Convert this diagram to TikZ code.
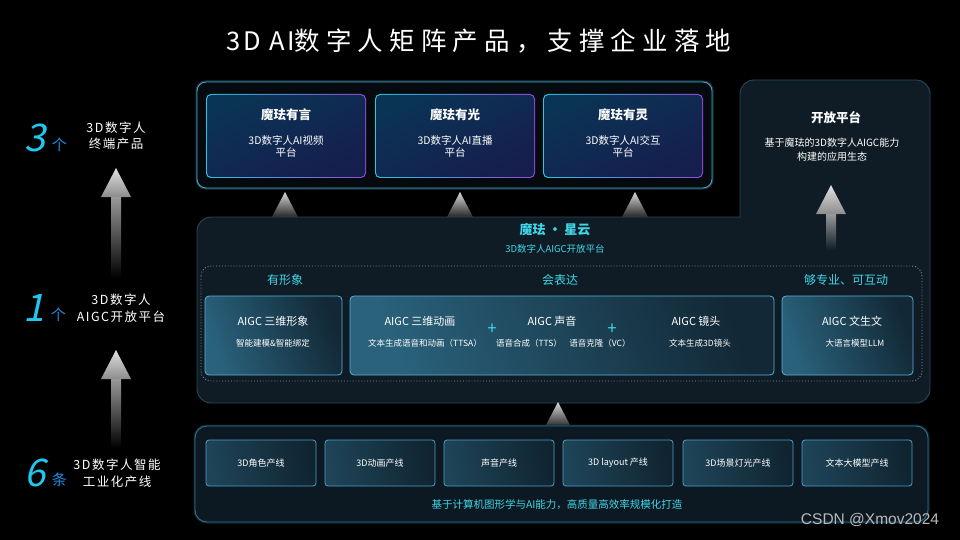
\documentclass[tikz,border=0pt]{standalone}
\usepackage{fontspec}
\setmainfont{Noto Sans CJK SC}
\newfontfamily\numfont[FakeSlant=0.22]{Noto Sans CJK SC}
\newfontfamily\widefont[LetterSpace=12]{Noto Sans CJK SC}
\newfontfamily\titlefont[LetterSpace=24]{Noto Sans CJK SC}
\newfontfamily\titlelatin[LetterSpace=10]{Noto Sans CJK SC}
\newfontfamily\wmfont{Liberation Sans}
\usetikzlibrary{positioning,calc}
\definecolor{cyanT}{RGB}{64,214,232}
\definecolor{numC}{RGB}{30,200,240}
\definecolor{unitC}{RGB}{30,140,230}
\definecolor{topfill}{RGB}{5,10,14}
\definecolor{midfill}{RGB}{15,28,38}
\definecolor{midedge}{RGB}{42,72,90}
\definecolor{topedge}{RGB}{70,160,196}
\definecolor{botedge}{RGB}{46,112,142}
\definecolor{edgeA}{RGB}{40,200,225}
\definecolor{edgeB}{RGB}{150,70,220}
\definecolor{cardA}{RGB}{10,52,84}
\definecolor{cardB}{RGB}{22,30,78}
\definecolor{modA}{RGB}{42,98,124}
\definecolor{modB}{RGB}{18,40,54}
\definecolor{modedge}{RGB}{88,178,218}
\definecolor{lineA}{RGB}{30,68,88}
\definecolor{lineB}{RGB}{16,36,48}
\definecolor{lineedge}{RGB}{76,160,200}
\newcommand\fsz[2]{\fontsize{#1}{#2}\selectfont}

\begin{document}
\begin{tikzpicture}[x=1pt,y=-1pt,
  every node/.style={text=white,inner sep=0pt,align=center},
  bignum/.style={font=\numfont\fsz{38}{38},text=numC},
  unitlbl/.style={font=\fsz{15}{15},text=unitC},
  side/.style={font=\widefont\fsz{12.5}{16.5}},
  cardedge/.style={rectangle,rounded corners=5,left color=edgeA,right color=edgeB,minimum width=160pt,minimum height=84pt},
  card/.style={rectangle,rounded corners=4.5,top color=cardA,bottom color=cardB,shading angle=25,minimum width=158pt,minimum height=82pt},
  cardhead/.style={font=\bfseries\fsz{12.5}{14}},
  cardsub/.style={font=\fsz{10.5}{12}},
  module/.style={rectangle,draw=modedge,line width=.8pt,rounded corners=4,left color=modA,right color=modB,shading angle=110,minimum height=79pt},
  modhead/.style={font=\fsz{11}{13}},
  modsub/.style={font=\fsz{8.5}{10}},
  group/.style={font=\fsz{12}{14},text=cyanT},
  prodline/.style={rectangle,draw=lineedge,line width=.8pt,rounded corners=3,left color=lineA,right color=lineB,shading angle=100,minimum width=110pt,minimum height=46pt,font=\fsz{9}{11}},
  spike/.style={top color=white!85!black,bottom color=black!85}]

\fill[black] (0,0) rectangle (960,540);

% title
\node[font=\fsz{25.5}{28}] (title) at (479,41) {{\titlelatin 3D AI}{\titlefont 数字人矩阵产品，支撑企业落地}};

% left column
\node[bignum] (n3) at (35,138) {3};
\node[unitlbl,right=6pt of n3.south east,anchor=south west] (u3) {个};
\node[side] (s3) at (116,136) {3D数字人\\终端产品};
\node[bignum] (n1) at (34,308) {1};
\node[unitlbl,right=6pt of n1.south east,anchor=south west] (u1) {个};
\node[side] (s1) at (121,308) {3D数字人\\AIGC开放平台};
\node[bignum] (n6) at (35,473) {6};
\node[unitlbl,right=6pt of n6.south east,anchor=south west] (u6) {条};
\node[side] (s6) at (117,473) {3D数字人智能\\工业化产线};

\foreach \x/\yt/\yb in {116/168/278,116/350/448,831/185/250}{
  \fill[top color=white!88!black,bottom color=white!55!black] (\x-15,\yt+29) -- (\x,\yt) -- (\x+15,\yt+29) -- cycle;
  \fill[top color=white!60!black,bottom color=black] (\x-5,\yt+29) rectangle (\x+5,\yb);
}

% top layer: products
\draw[topedge!35!black,line width=3pt,rounded corners=9] (197,82) rectangle (712,188);
\draw[topedge,line width=.9pt,rounded corners=9,fill=topfill] (197,82) rectangle (712,188);
\node[cardedge] (yanE) at (286,136) {};
\node[card] (yan) at (286,136) {};
\node[cardedge] (guangE) at (455,136) {};
\node[card] (guang) at (455,136) {};
\node[cardedge] (lingE) at (623,136) {};
\node[card] (ling) at (623,136) {};
\node[cardhead] at ($(yan.north)+(0,20)$) {魔珐有言};
\node[cardsub] at ($(yan.north)+(0,52)$) {3D数字人AI视频\\平台};
\node[cardhead] at ($(guang.north)+(0,20)$) {魔珐有光};
\node[cardsub] at ($(guang.north)+(0,52)$) {3D数字人AI直播\\平台};
\node[cardhead] at ($(ling.north)+(0,20)$) {魔珐有灵};
\node[cardsub] at ($(ling.north)+(0,52)$) {3D数字人AI交互\\平台};

\foreach \x in {285,460,635}
  \fill[spike] (\x-13,217) -- (\x,192) -- (\x+13,217) -- cycle;

% middle layer: open platform
\draw[midedge,line width=.9pt,fill=midfill] (740,217) -- (740,94) arc (180:270:14) -- (916,80) arc (270:360:14)
  -- (930,389) arc (0:90:14) -- (211,403) arc (90:180:14) -- (197,231) arc (180:270:14) -- cycle;
\node[font=\bfseries\fsz{12.5}{14}] (open) at (836,118) {开放平台};
\node[font=\fsz{10}{14}] (opensub) at (832,150) {基于魔珐的3D数字人AIGC能力\\构建的应用生态};
\fill[top color=white!88!black,bottom color=white!55!black] (816,214) -- (831,185) -- (846,214) -- cycle;
\fill[top color=white!60!black,bottom color=midfill] (826,214) rectangle (836,250);

\node[font=\bfseries\fsz{13}{15},text=cyanT] (xingyun) at (555,230) {魔珐 · 星云};
\node[font=\fsz{9.5}{11},text=cyanT] (xysub) at (555,249) {3D数字人AIGC开放平台};

\draw[white!55!black,dotted,line width=.9pt,rounded corners=10] (201,266) rectangle (922,381);
\node[group] (g1) at (285,280) {有形象};
\node[group] (g2) at (560,280) {会表达};
\node[group] (g3) at (846,280) {够专业、可互动};

\node[module,minimum width=137pt] (m1) at (273.5,335.5) {};
\node[module,minimum width=424pt] (m2) at (562,335.5) {};
\node[module,minimum width=131pt] (m3) at (847.5,335.5) {};
\node[modhead] at (273,321) {AIGC 三维形象};
\node[modsub] at (273,343) {智能建模\&智能绑定};
\node[modhead] at (420,321) {AIGC 三维动画};
\node[modhead] at (552,321) {AIGC 声音};
\node[modhead] at (696,321) {AIGC 镜头};
\node[font=\fsz{17}{17},text=cyanT] (plus1) at (492,329) {+};
\node[font=\fsz{17}{17},text=cyanT] (plus2) at (612,329) {+};
\node[modsub] at (425,343) {文本生成语音和动画（TTSA）};
\node[modsub] at (529,343) {语音合成（TTS）};
\node[modsub] at (600,343) {语音克隆（VC）};
\node[modsub] at (700,343) {文本生成3D镜头};
\node[modhead] at (852,321) {AIGC 文生文};
\node[modsub] at (855,343) {大语言模型LLM};

\fill[spike] (545,427) -- (558,402) -- (571,427) -- cycle;

% bottom layer: production lines
\draw[botedge!35!black,line width=3pt,rounded corners=12] (195,426) rectangle (928,522);
\draw[botedge,line width=.9pt,rounded corners=12,fill=midfill!90!black] (195,426) rectangle (928,522);
\foreach \n/\x/\t in {1/261/3D角色产线,2/380/3D动画产线,3/499/声音产线,4/618/3D layout 产线,5/738/3D场景灯光产线,6/857/文本大模型产线}
  \node[prodline] (line\n) at (\x,463) {\t};
\node[font=\fsz{10.5}{12},text=cyanT] (basis) at (557,505) {基于计算机图形学与AI能力，高质量高效率规模化打造};

\node[font=\wmfont\fsz{15.5}{16},text=white!72!black] (wm) at (870,520) {CSDN @Xmov2024};
\end{tikzpicture}
\end{document}
